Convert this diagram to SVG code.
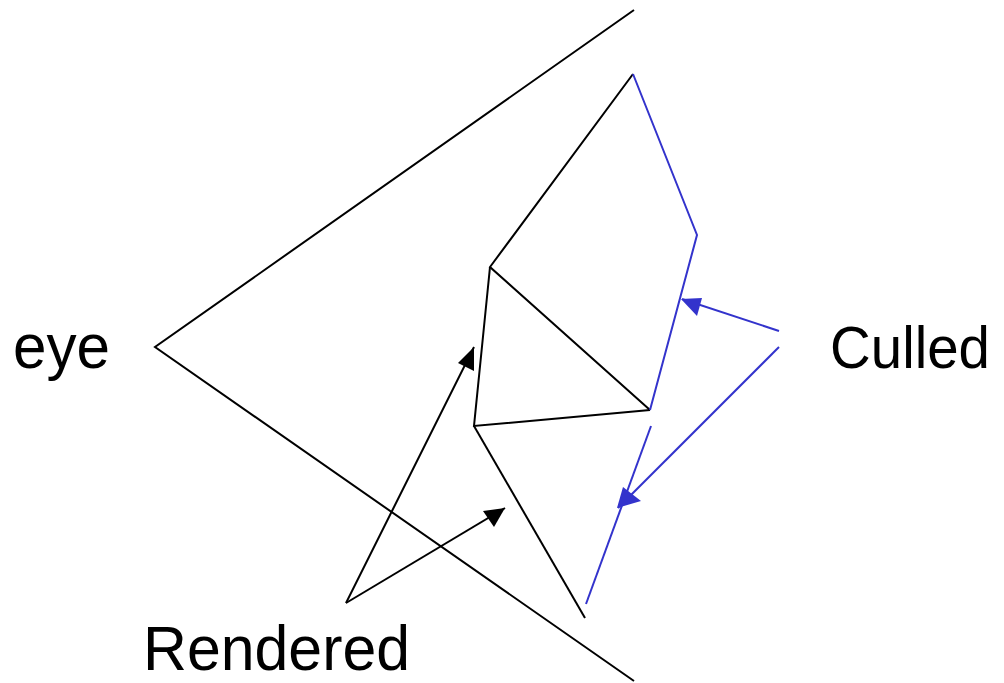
<svg xmlns="http://www.w3.org/2000/svg" width="1004" height="683" viewBox="0 0 1004 683">
<style>
.k{stroke:#000;stroke-width:2;fill:none}
.b{stroke:#3333cc;stroke-width:2;fill:none}
.hk{fill:#000}
.hb{fill:#3333cc}
text{font-family:"Liberation Sans",Arial,sans-serif;font-size:63px;fill:#000}
</style>
<rect width="1004" height="683" fill="#fff"/>
<g id="frustum">
<polyline class="k" points="634,10 155,347 634,681"/>
</g>
<g id="polygons">
<polyline class="k" points="650,410 490,267 633,74"/>
<polyline class="k" points="490,267 474,426 650,410"/>
<line class="k" x1="474" y1="426" x2="585" y2="618"/>
<polyline class="b" points="633,74 697,235 650,410"/>
<line class="b" x1="651" y1="426" x2="586" y2="604"/>
</g>
<g id="connectors">
<path class="k" d="M346,603 L474,347"/>
<polygon class="hk" points="474,347 458,363 474,371"/>
<path class="k" d="M346,603 L505,508"/>
<polygon class="hk" points="505,508 483,511 494,527"/>
<path class="b" d="M779,331 L682,299"/>
<polygon class="hb" points="681,299 702,298 697,316"/>
<path class="b" d="M779,347 L618,508"/>
<polygon class="hb" points="617,508 623,487 641,501"/>
</g>
<g id="label-eye"><text x="13" y="368" textLength="97" lengthAdjust="spacingAndGlyphs">eye</text></g>
<g id="label-culled"><text x="830" y="368" style="font-size:60px" textLength="160" lengthAdjust="spacingAndGlyphs">Culled</text></g>
<g id="label-rendered"><text x="143" y="670" textLength="267" lengthAdjust="spacingAndGlyphs">Rendered</text></g>
</svg>
